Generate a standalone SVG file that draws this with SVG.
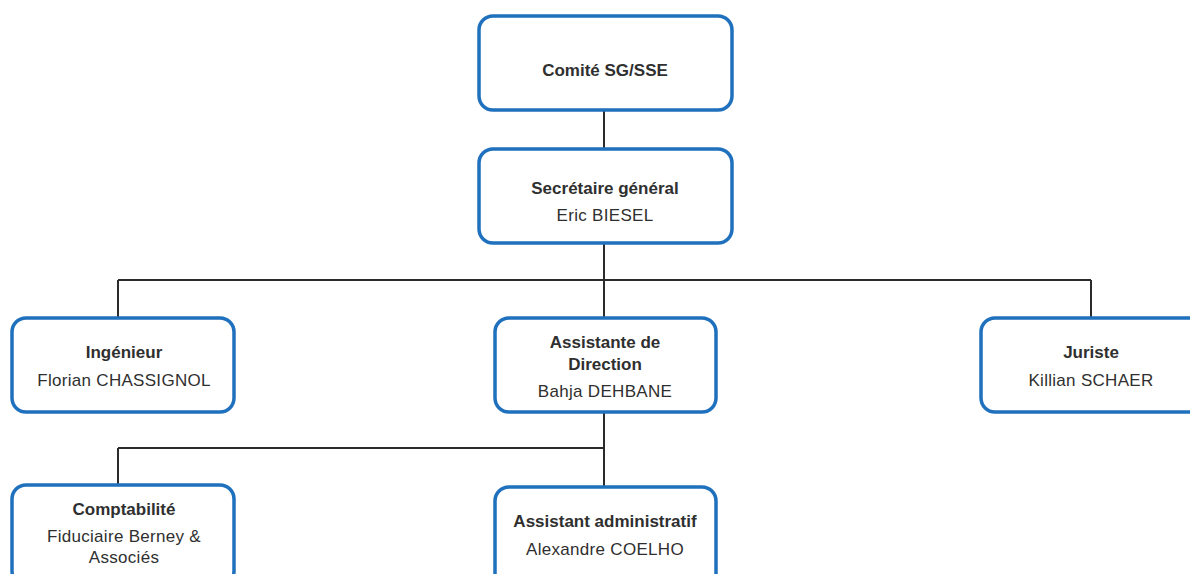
<svg xmlns="http://www.w3.org/2000/svg" width="1190" height="574" viewBox="0 0 1190 574">
<style>
.box{fill:#fff;stroke:#1f70bd;stroke-width:3.5}
.ln{fill:none;stroke:#2b2b2b;stroke-width:2}
text{font-family:"Liberation Sans",Arial,sans-serif;fill:#2f2f2f;text-anchor:middle}
.b{font-weight:bold;font-size:17px}
.r{font-size:17px;letter-spacing:0.3px}
</style>
<rect width="1190" height="574" fill="#fff"/>
<g id="connectors">
<path class="ln" d="M604 110V149M604 243V280M118 280H1091M118 280V318M604 280V318M1091 280V318M604 412V487M118 448H604M118 448V485"/>
</g>
<g id="comite"><rect class="box" x="479" y="16" width="253" height="94" rx="14"/><text class="b" x="605" y="76">Comité SG/SSE</text></g>
<g id="secretaire"><rect class="box" x="479" y="149" width="253" height="94" rx="14"/><text class="b" x="605" y="194">Secrétaire général</text><text class="r" x="605" y="221">Eric BIESEL</text></g>
<g id="ingenieur"><rect class="box" x="12" y="318" width="222" height="94" rx="14"/><text class="b" x="124" y="358">Ingénieur</text><text class="r" x="124" y="386">Florian CHASSIGNOL</text></g>
<g id="assistante"><rect class="box" x="495" y="318" width="221" height="94" rx="14"/><text class="b" x="605" y="348">Assistante de</text><text class="b" x="605" y="370">Direction</text><text class="r" x="605" y="397">Bahja DEHBANE</text></g>
<g id="juriste"><rect class="box" x="981" y="318" width="222" height="94" rx="14"/><text class="b" x="1091" y="358">Juriste</text><text class="r" x="1091" y="386">Killian SCHAER</text></g>
<g id="comptabilite"><rect class="box" x="12" y="485" width="222" height="100" rx="14"/><text class="b" x="124" y="515">Comptabilité</text><text class="r" x="124" y="542">Fiduciaire Berney &amp;</text><text class="r" x="124" y="563">Associés</text></g>
<g id="assistant-admin"><rect class="box" x="495" y="487" width="221" height="100" rx="14"/><text class="b" x="605" y="527">Assistant administratif</text><text class="r" x="605" y="555">Alexandre COELHO</text></g>
</svg>
